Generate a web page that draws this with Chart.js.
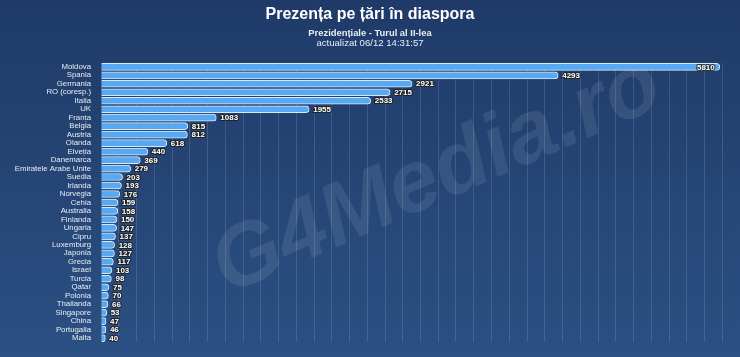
<!DOCTYPE html>
<html>
<head>
<meta charset="utf-8">
<script src="https://cdn.jsdelivr.net/npm/chart.js@4.4.0/dist/chart.umd.min.js"></script>
<style>
html,body{margin:0;padding:0;background:#24416f;overflow:hidden;}
#wrap{width:740px;height:357px;position:relative;}
</style>
</head>
<body>
<div id="wrap"><canvas id="c" width="740" height="357"></canvas></div>
<script>
const categories = ["Moldova","Spania","Germania","RO (coresp.)","Italia","UK","Franța","Belgia","Austria","Olanda","Elveția","Danemarca","Emiratele Arabe Unite","Suedia","Irlanda","Norvegia","Cehia","Australia","Finlanda","Ungaria","Cipru","Luxemburg","Japonia","Grecia","Israel","Turcia","Qatar","Polonia","Thailanda","Singapore","China","Portugalia","Malta"];
const presence = [5810,4293,2921,2715,2533,1955,1083,815,812,618,440,369,279,203,193,176,159,158,150,147,137,128,127,117,103,98,75,70,66,53,47,46,40];
const titleText = "Prezența pe țări în diaspora";
const subtitleText = "Prezidențiale - Turul al II-lea";
const updatedText = "actualizat 06/12 14:31:57";
const watermarkText = "G4Media.ro";

const FONT = "'Liberation Sans', Arial, sans-serif";

const bgPlugin = {
  id: 'bg',
  beforeDraw(chart) {
    const ctx = chart.ctx, w = chart.width, h = chart.height;
    ctx.save();
    const g = ctx.createLinearGradient(0, 0, 0, h);
    g.addColorStop(0, '#1f3a68');
    g.addColorStop(1, '#2b5083');
    ctx.fillStyle = g;
    ctx.fillRect(0, 0, w, h);
    // header texts
    ctx.fillStyle = '#ffffff';
    ctx.textAlign = 'center';
    ctx.textBaseline = 'middle';
    ctx.font = 'bold 16px ' + FONT;
    ctx.fillText(titleText, w / 2, 15);
    ctx.fillStyle = '#e8edf5';
    ctx.font = 'bold 9.4px ' + FONT;
    ctx.fillText(subtitleText, w / 2, 33);
    ctx.font = '9.6px ' + FONT;
    ctx.fillText(updatedText, w / 2, 43.5);
    // watermark
    ctx.translate(437, 177);
    ctx.rotate(-23.5 * Math.PI / 180);
    ctx.font = 'italic bold 88px ' + FONT;
    ctx.fillStyle = 'rgba(255,255,255,0.09)';
    ctx.fillText(watermarkText, 0, 0);
    ctx.restore();
  }
};

const labelPlugin = {
  id: 'vlabels',
  afterDatasetsDraw(chart) {
    const ctx = chart.ctx;
    const meta = chart.getDatasetMeta(0);
    const area = chart.chartArea;
    ctx.save();
    ctx.font = 'bold 8px ' + FONT;
    ctx.textBaseline = 'middle';
    ctx.lineJoin = 'round';
    meta.data.forEach((bar, i) => {
      const txt = String(presence[i]);
      const tw = ctx.measureText(txt).width;
      let x = bar.x + 4, align = 'left';
      if (x + tw > area.right - 2) { x = bar.x - 5; align = 'right'; }
      ctx.textAlign = align;
      ctx.lineWidth = 2.2;
      ctx.strokeStyle = 'rgba(30,30,30,0.85)';
      ctx.strokeText(txt, x, bar.y + 0.5);
      ctx.fillStyle = '#ffffff';
      ctx.fillText(txt, x, bar.y + 0.5);
    });
    ctx.restore();
  }
};

new Chart(document.getElementById('c'), {
  type: 'bar',
  data: {
    labels: categories,
    datasets: [{
      data: presence,
      backgroundColor: '#59a9f2',
      borderColor: '#d6e9fb',
      borderWidth: 1,
      borderRadius: 4,
      borderSkipped: 'start',
      barThickness: 7
    }]
  },
  options: {
    indexAxis: 'y',
    responsive: false,
    animation: false,
    devicePixelRatio: 1,
    layout: { padding: { top: 62.6, bottom: 1.6, left: 0, right: 0 } },
    plugins: { legend: { display: false }, tooltip: { enabled: false } },
    scales: {
      x: {
        min: 0, max: 6000,
        ticks: { display: false, count: 37 },
        grid: { color: 'rgba(255,255,255,0.13)', lineWidth: 1, drawTicks: false },
        border: { display: false }
      },
      y: {
        ticks: { color: '#e9edf3', font: { family: FONT, size: 7.8 }, padding: 10, autoSkip: false },
        grid: { display: false, drawTicks: false },
        border: { display: false },
        afterFit(scale) { scale.width = 101; }
      }
    }
  },
  plugins: [bgPlugin, labelPlugin]
});
</script>
</body>
</html>
